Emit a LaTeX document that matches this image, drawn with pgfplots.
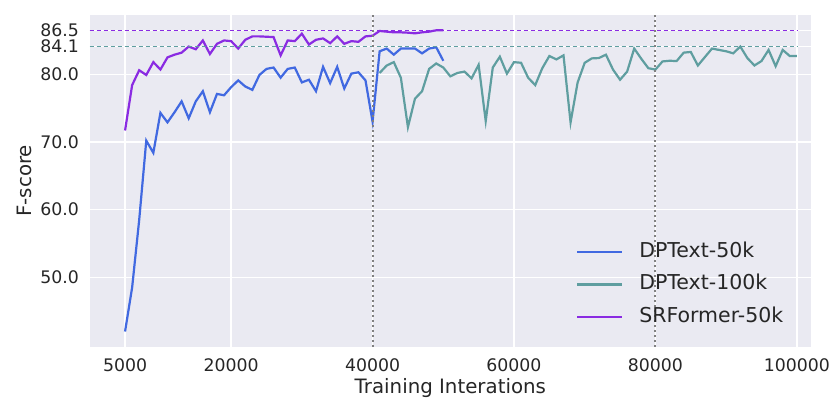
\documentclass[border=0pt]{standalone}
\usepackage{pgfplots}
\pgfplotsset{compat=1.18}
\usepackage{pgfplotstable}
\usepackage{fontspec}
\setmainfont{DejaVu Sans}
\definecolor{bgc}{HTML}{EAEAF2}
\definecolor{cblue}{HTML}{4169E1}
\definecolor{cteal}{HTML}{5F9EA0}
\definecolor{cpurp}{HTML}{8A2BE2}
\definecolor{cgray}{HTML}{808080}

\pgfplotstableread{
x y
5000 42.0
6000 48.5
7000 58.5
8000 70.2
9000 68.4
10000 74.3
11000 72.9
12000 74.4
13000 76.0
14000 73.5
15000 76.0
16000 77.5
17000 74.4
18000 77.1
19000 76.9
20000 78.1
21000 79.1
22000 78.2
23000 77.7
24000 79.9
25000 80.8
26000 81.0
27000 79.5
28000 80.8
29000 81.0
30000 78.8
31000 79.2
32000 77.5
33000 81.1
34000 78.7
35000 81.1
36000 77.9
37000 80.1
38000 80.3
39000 79.1
40000 73.0
41000 83.4
42000 83.8
43000 82.9
44000 83.8
45000 83.8
46000 83.8
47000 83.1
48000 83.8
49000 84.0
50000 82.0
}\dpfifty

\pgfplotstableread{
x y
41000 80.2
42000 81.3
43000 81.8
44000 79.5
45000 72.2
46000 76.4
47000 77.5
48000 80.8
49000 81.6
50000 81.0
51000 79.7
52000 80.2
53000 80.4
54000 79.4
55000 81.4
56000 73.1
57000 81.0
58000 82.6
59000 80.1
60000 81.8
61000 81.7
62000 79.5
63000 78.4
64000 80.9
65000 82.7
66000 82.2
67000 82.8
68000 72.9
69000 78.8
70000 81.7
71000 82.35
72000 82.4
73000 82.9
74000 80.7
75000 79.2
76000 80.4
77000 83.8
78000 82.3
79000 80.9
80000 80.7
81000 81.9
82000 82.0
83000 81.96
84000 83.2
85000 83.3
86000 81.3
87000 82.55
88000 83.8
89000 83.6
90000 83.4
91000 83.1
92000 84.1
93000 82.4
94000 81.3
95000 81.96
96000 83.6
97000 81.2
98000 83.6
99000 82.7
100000 82.7
}\dphundred

\pgfplotstableread{
x y
5000 71.7
6000 78.4
7000 80.6
8000 79.9
9000 81.8
10000 80.7
11000 82.5
12000 82.9
13000 83.2
14000 84.1
15000 83.7
16000 85.0
17000 83.0
18000 84.5
19000 85.0
20000 84.9
21000 83.8
22000 85.1
23000 85.6
24000 85.6
25000 85.55
26000 85.5
27000 82.8
28000 85.0
29000 84.9
30000 86.0
31000 84.4
32000 85.1
33000 85.3
34000 84.6
35000 85.6
36000 84.5
37000 84.9
38000 84.8
39000 85.6
40000 85.7
41000 86.4
42000 86.3
43000 86.2
44000 86.2
45000 86.15
46000 86.05
47000 86.2
48000 86.3
49000 86.5
50000 86.5
}\srformer

\begin{document}
\begin{tikzpicture}
\begin{axis}[
  at={(89.7pt,68.3pt)}, anchor=south west,
  scale only axis, width=721.3pt, height=331.7pt,
  xmin=0, xmax=102000, ymin=39.76, ymax=88.76,
  axis background/.style={fill=bgc},
  axis line style={draw=none},
  major tick length=0pt,
  grid=major,
  major grid style={white, line width=1.6pt},
  xtick={5000,20000,40000,60000,80000,100000},
  xticklabels={5000,20000,40000,60000,80000,100000},
  ytick={50,60,70,80,84.1,86.5},
  yticklabels={50.0,60.0,70.0,80.0,84.1,86.5},
  scaled x ticks=false,
  /pgf/number format/assume math mode=true,
  ticklabel style={font=\fontsize{17.3}{20}\selectfont, text=black!85},
  xticklabel style={inner sep=0pt, yshift=-11.4pt},
  yticklabel style={inner sep=0pt, xshift=-10.7pt},
  xlabel={Training Interations},
  ylabel={F-score},
  label style={font=\fontsize{19.8}{23}\selectfont, text=black!85},
  xlabel style={at={(axis description cs:0.5,-0.1426)}, anchor=base, inner sep=0pt},
  ylabel style={at={(axis description cs:-0.080,0.5)}, anchor=base, inner sep=0pt},
  legend style={draw=none, fill=none, at={(axis description cs:0.674,0.3159)}, anchor=north west,
    inner sep=0pt, row sep=15.2pt, column sep=0pt,
    font=\fontsize{20.5}{24}\selectfont, text=black!85,
    nodes={inner sep=0pt, anchor=base west}},
  legend cell align=left,
  legend image code/.code={\draw[#1] (0pt,5.5pt) -- (45pt,5.5pt); \path (61pt,0pt);},
]
\addplot[cblue, line width=2.2pt] table[x=x,y=y] {\dpfifty};
\addlegendentry{DPText-50k}
\addplot[cteal, line width=2.2pt] table[x=x,y=y] {\dphundred};
\addlegendentry{DPText-100k}
\addplot[cpurp, line width=2.2pt] table[x=x,y=y] {\srformer};
\addlegendentry{SRFormer-50k}
\addplot[cpurp, line width=1.6pt, dash pattern=on 4.5pt off 2.5pt, forget plot] coordinates {(0,86.5) (100000,86.5)};
\addplot[cteal, line width=1.6pt, dash pattern=on 4.5pt off 2.5pt, forget plot] coordinates {(0,84.1) (100000,84.1)};
\addplot[cgray, line width=2pt, dash pattern=on 2pt off 3pt, forget plot] coordinates {(40000,39.76) (40000,88.76)};
\addplot[cgray, line width=2pt, dash pattern=on 2pt off 3pt, forget plot] coordinates {(80000,39.76) (80000,88.76)};
\end{axis}
\pgfresetboundingbox
\path[use as bounding box] (0,0) rectangle (830pt,415pt);
\end{tikzpicture}
\end{document}
